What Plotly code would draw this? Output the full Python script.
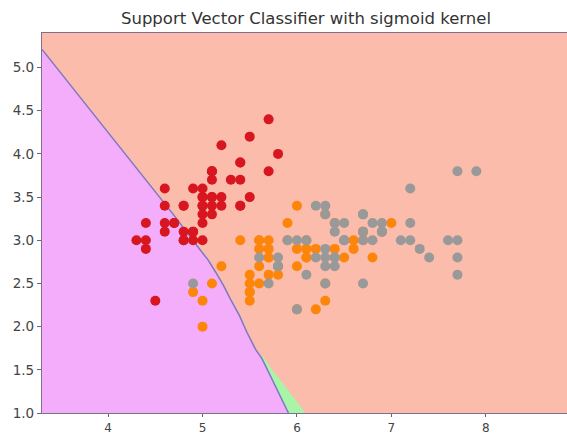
import plotly.graph_objects as go

# Iris sepal length / sepal width, grouped by species
setosa_x = [5.1,4.9,4.7,4.6,5.0,5.4,4.6,5.0,4.4,4.9,5.4,4.8,4.8,4.3,5.8,5.7,5.4,5.1,5.7,5.1,
            5.4,5.1,4.6,5.1,4.8,5.0,5.0,5.2,5.2,4.7,4.8,5.4,5.2,5.5,4.9,5.0,5.5,4.9,4.4,5.1,
            5.0,4.5,4.4,5.0,5.1,4.8,5.1,4.6,5.3,5.0]
setosa_y = [3.5,3.0,3.2,3.1,3.6,3.9,3.4,3.4,2.9,3.1,3.7,3.4,3.0,3.0,4.0,4.4,3.9,3.5,3.8,3.8,
            3.4,3.7,3.6,3.3,3.4,3.0,3.4,3.5,3.4,3.2,3.1,3.4,4.1,4.2,3.1,3.2,3.5,3.6,3.0,3.4,
            3.5,2.3,3.2,3.5,3.8,3.0,3.8,3.2,3.7,3.3]
versicolor_x = [7.0,6.4,6.9,5.5,6.5,5.7,6.3,4.9,6.6,5.2,5.0,5.9,6.0,6.1,5.6,6.7,5.6,5.8,6.2,5.6,
                5.9,6.1,6.3,6.1,6.4,6.6,6.8,6.7,6.0,5.7,5.5,5.5,5.8,6.0,5.4,6.0,6.7,6.3,5.6,5.5,
                5.5,6.1,5.8,5.0,5.6,5.7,5.7,6.2,5.1,5.7]
versicolor_y = [3.2,3.2,3.1,2.3,2.8,2.8,3.3,2.4,2.9,2.7,2.0,3.0,2.2,2.9,2.9,3.1,3.0,2.7,2.2,2.5,
                3.2,2.8,2.5,2.8,2.9,3.0,2.8,3.0,2.9,2.6,2.4,2.4,2.7,2.7,3.0,3.4,3.1,2.3,3.0,2.5,
                2.6,3.0,2.6,2.3,2.7,3.0,2.9,2.9,2.5,2.8]
virginica_x = [6.3,5.8,7.1,6.3,6.5,7.6,4.9,7.3,6.7,7.2,6.5,6.4,6.8,5.7,5.8,6.4,6.5,7.7,7.7,6.0,
               6.9,5.6,7.7,6.3,6.7,7.2,6.2,6.1,6.4,7.2,7.4,7.9,6.4,6.3,6.1,7.7,6.3,6.4,6.0,6.9,
               6.7,6.9,5.8,6.8,6.7,6.7,6.3,6.5,6.2,5.9]
virginica_y = [3.3,2.7,3.0,2.9,3.0,3.0,2.5,2.9,2.5,3.6,3.2,2.7,3.0,2.5,2.8,3.2,3.0,3.8,2.6,2.2,
               3.2,2.8,2.8,2.7,3.3,3.2,2.8,3.0,2.8,3.0,2.8,3.8,2.8,2.8,2.6,3.0,3.4,3.1,3.0,3.1,
               3.1,3.1,2.7,3.2,3.3,3.0,2.5,3.0,3.4,3.0]

# Decision boundary (purple / salmon edge, top to bottom)
boundary_x = [3.30, 4.00, 4.69, 4.96, 5.06, 5.14, 5.22, 5.30, 5.39, 5.47, 5.56, 5.63, 5.75, 5.91]
boundary_y = [5.21, 4.25, 3.30, 2.91, 2.77, 2.63, 2.48, 2.31, 2.13, 1.935, 1.74, 1.63, 1.36, 1.00]
# Green sliver right edge (bottom to top)
green_edge_x = [6.09, 5.84, 5.73, 5.64]
green_edge_y = [1.00, 1.36, 1.51, 1.66]

x_range = [3.3, 8.86]
y_range = [1.0, 5.4]
x_ticks = [4, 5, 6, 7, 8]
y_ticks = [1.0, 1.5, 2.0, 2.5, 3.0, 3.5, 4.0, 4.5, 5.0]

SALMON = "#fbbcab"
PURPLE = "#f4adfb"
GREEN = "#a8f5a8"

fig = go.Figure()

# purple region
fig.add_trace(go.Scatter(
    x=[x_range[0]] + boundary_x + [x_range[0]],
    y=[boundary_y[0]] + boundary_y + [y_range[0]],
    fill="toself", fillcolor=PURPLE, mode="none", hoverinfo="skip", showlegend=False))

# green sliver
gi = boundary_x.index(5.63)
fig.add_trace(go.Scatter(
    x=boundary_x[gi:] + green_edge_x,
    y=boundary_y[gi:] + green_edge_y,
    fill="toself", fillcolor=GREEN, mode="none", hoverinfo="skip", showlegend=False))

# boundary line
fig.add_trace(go.Scatter(
    x=boundary_x, y=boundary_y, mode="lines",
    line=dict(color="#7b78c6", width=1.5),
    hoverinfo="skip", showlegend=False))

for xs, ys, col in [(setosa_x, setosa_y, "#d8161f"),
                    (versicolor_x, versicolor_y, "#fd850a"),
                    (virginica_x, virginica_y, "#999999")]:
    fig.add_trace(go.Scatter(
        x=xs, y=ys, mode="markers",
        marker=dict(color=col, size=10, line=dict(width=0)),
        showlegend=False))

axis_common = dict(showgrid=False, zeroline=False, showline=True, linecolor="#7f7090",
                   linewidth=1.3, mirror=True, ticks="outside", tickwidth=1,
                   tickcolor="#666666", automargin=False)

fig.update_layout(
    width=567, height=434,
    margin=dict(l=42, r=0, t=33, b=21),
    paper_bgcolor="white",
    plot_bgcolor=SALMON,
    title=dict(text="Support Vector Classifier with sigmoid kernel",
               font=dict(family="DejaVu Sans", size=16.5, color="#333333"),
               xref="container", x=306 / 567, xanchor="center",
               yref="container", y=1 - 18 / 434, yanchor="middle"),
    xaxis=dict(range=x_range, tickvals=x_ticks, ticktext=[str(v) for v in x_ticks],
               ticklen=3, tickfont=dict(family="DejaVu Sans", size=12, color="#444444"),
               **axis_common),
    yaxis=dict(range=y_range, tickvals=y_ticks, ticktext=[f"{v:.1f}" for v in y_ticks],
               ticklen=4, tickfont=dict(family="DejaVu Sans", size=13.5, color="#444444"),
               **axis_common),
)

fig.write_html("out.html")
